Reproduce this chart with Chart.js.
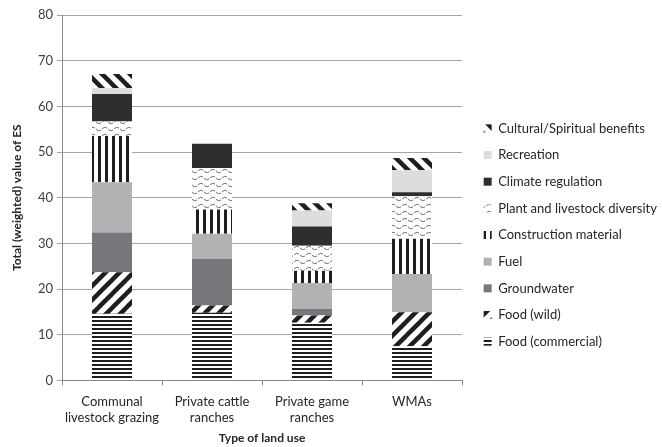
<!DOCTYPE html>
<html>
<head>
<meta charset="utf-8">
<script src="https://cdn.jsdelivr.net/npm/chart.js@4.4.1/dist/chart.umd.min.js"></script>
<style>
  html,body{margin:0;padding:0;background:#fff;}
  #wrap{width:662px;height:447px;position:relative;}
</style>
</head>
<body>
<div id="wrap"><canvas id="c" width="662" height="447"></canvas></div>
<script>
const categories = [["Communal","livestock grazing"],["Private cattle","ranches"],["Private game","ranches"],"WMAs"];
const seriesNames = ["Food (commercial)","Food (wild)","Groundwater","Fuel","Construction material","Plant and livestock diversity","Climate regulation","Recreation","Cultural/Spiritual benefits"];
const foodCommercial = [14.6, 14.8, 12.6, 7.5];
const foodWild       = [9.1, 1.6, 1.6, 7.4];
const groundwater    = [8.7, 10.2, 1.5, 0];
const fuel           = [11.0, 5.5, 5.6, 8.4];
const construction   = [10.1, 5.3, 2.7, 7.7];
const plantDiversity = [3.2, 9.1, 5.5, 9.3];
const climate        = [6.0, 5.3, 4.2, 0.9];
const recreation     = [1.3, 0, 3.5, 4.8];
const cultural       = [3.1, 0, 1.6, 2.7];
const yTicks = [0,10,20,30,40,50,60,70,80];

function tile(w, h, draw){
  const c = document.createElement('canvas'); c.width = w; c.height = h;
  const g = c.getContext('2d');
  g.fillStyle = '#fff'; g.fillRect(0,0,w,h);
  draw(g, w, h);
  return document.getElementById('c').getContext('2d').createPattern(c, 'repeat');
}
const pHoriz = tile(4,4,(g)=>{g.fillStyle='#1e1e1e';g.fillRect(0,0,4,2);});
const pSlash = tile(14,14,(g)=>{g.strokeStyle='#1e1e1e';g.lineWidth=4.5;g.lineCap='square';
  for(let k=-14;k<=28;k+=14){g.beginPath();g.moveTo(k,14);g.lineTo(k+14,0);g.stroke();}});
const pBack = tile(14,14,(g)=>{g.strokeStyle='#1e1e1e';g.lineWidth=4.5;g.lineCap='square';
  for(let k=-14;k<=28;k+=14){g.beginPath();g.moveTo(k,0);g.lineTo(k+14,14);g.stroke();}});
const pVert = tile(7,7,(g)=>{g.fillStyle='#1e1e1e';g.fillRect(0,0,3,7);});
const pWave = tile(12,7,(g)=>{g.strokeStyle='#555';g.lineWidth=1;g.beginPath();
  for(let x=0;x<=12;x+=0.5){const y=3+1.6*Math.sin(x/12*2*Math.PI); if(x===0)g.moveTo(x,y); else g.lineTo(x,y);} g.stroke();
  g.fillStyle='#fff'; g.fillRect(5,0,1,7); g.fillRect(11,0,1,7);});

const fills = [pHoriz, pSlash, '#77787b', '#b1b2b4', pVert, pWave, '#2e2e2e', '#dcdddf', pBack];
const values = [foodCommercial, foodWild, groundwater, fuel, construction, plantDiversity, climate, recreation, cultural];

const datasets = seriesNames.map((n,i)=>({
  label: n, data: values[i], backgroundColor: fills[i], borderWidth: 0,
  categoryPercentage: 0.8, barPercentage: 0.5
}));

const FONT = "Lato, 'Liberation Sans', sans-serif";
Chart.defaults.font.family = FONT;
Chart.defaults.color = '#404040';

const LEGEND_W = 200;       // width reserved on the right for the legend
const LEGEND_GAP = 8;       // gap between plot edge and legend
const LEGEND_SHIFT_Y = 5;   // vertical nudge of the legend block

const legendPlacer = {
  id: 'legendPlacer',
  afterInit(chart){
    const l = chart.legend;
    const fit = l.fit.bind(l);
    l.fit = function(){ fit(); this.width = LEGEND_W; };
  },
  afterLayout(chart){
    const l = chart.legend;
    l.left = chart.chartArea.right + LEGEND_GAP;
    l.right = l.left + LEGEND_W;
    l.top += LEGEND_SHIFT_Y; l.bottom += LEGEND_SHIFT_Y;
  }
};

function build(){
  new Chart(document.getElementById('c'), {
    type: 'bar',
    data: { labels: categories, datasets },
    plugins: [legendPlacer],
    options: {
      responsive: false, animation: false,
      devicePixelRatio: 1,
      layout: { padding: { top: 15, left: 0, right: 0, bottom: 2 } },
      plugins: {
        tooltip: { enabled: false },
        legend: {
          position: 'right', reverse: true,
          labels: { boxWidth: 8, boxHeight: 8, padding: 13.66, color: '#262626',
            font: { size: 13, family: FONT } }
        }
      },
      scales: {
        x: {
          stacked: true,
          grid: { display: true, drawOnChartArea: false, drawTicks: true, tickLength: 5, color: '#888', offset: true },
          border: { color: '#888' },
          ticks: { color: '#262626', font: { size: 13 }, padding: 9, maxRotation: 0 },
          title: { display: true, text: 'Type of land use', color: '#262626', font: { size: 12, weight: 'bold' }, padding: { top: -4, bottom: 0 } }
        },
        y: {
          stacked: true, min: 0, max: 80,
          afterFit: (s) => { s.width = 62; },
          afterBuildTicks: (s) => { s.ticks = yTicks.map(v=>({value:v})); },
          grid: { color: '#a6a6a6', tickLength: 5 },
          border: { color: '#888' },
          ticks: { color: '#404040', font: { size: 13 }, padding: 4 },
          title: { display: true, text: 'Total (weighted) value of ES', color: '#262626', font: { size: 12, weight: 'bold' }, padding: { top: 10, bottom: 4 } }
        }
      }
    }
  });
}
if (document.fonts && document.fonts.load) {
  Promise.all([document.fonts.load("13px Lato"), document.fonts.load("bold 12px Lato")]).then(build, build);
} else { build(); }
</script>
</body>
</html>
